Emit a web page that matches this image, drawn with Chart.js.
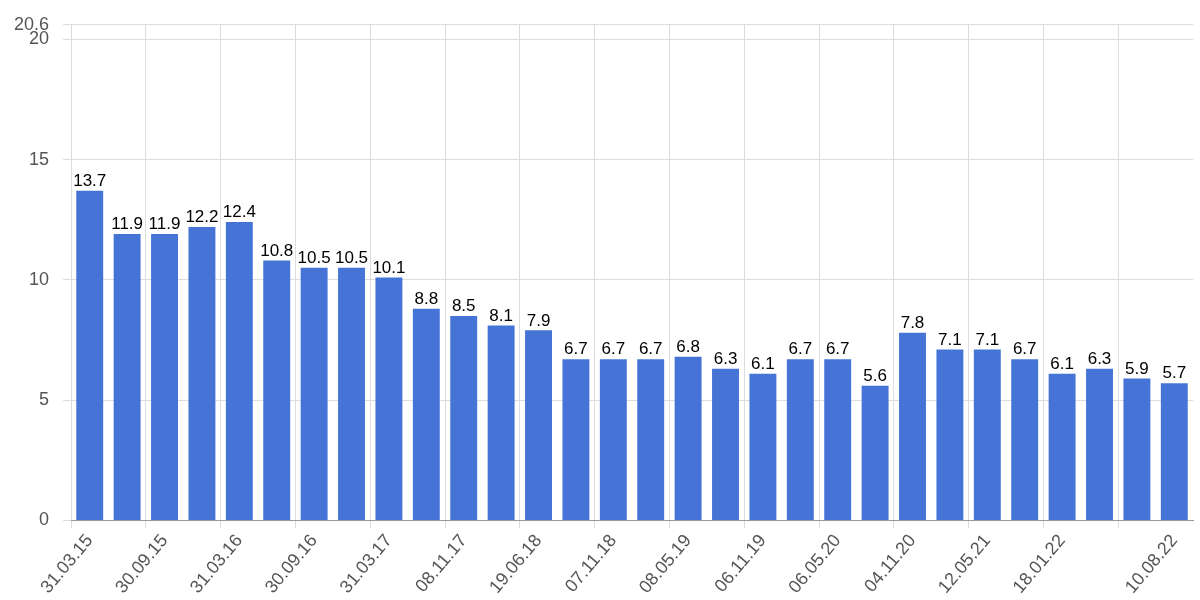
<!DOCTYPE html>
<html>
<head>
<meta charset="utf-8">
<script src="https://cdn.jsdelivr.net/npm/chart.js@4/dist/chart.umd.min.js"></script>
<style>
  html, body { margin: 0; padding: 0; background: #fff; }
  #wrap { width: 1200px; height: 600px; }
</style>
</head>
<body>
<div id="wrap"><canvas id="c"></canvas></div>
<script>
const labels = ['31.03.15','30.06.15','30.09.15','31.12.15','31.03.16','30.06.16','30.09.16','31.12.16','31.03.17','30.06.17',
  '08.11.17','15.03.18','19.06.18','12.09.18','07.11.18','20.02.19','08.05.19','15.08.19','06.11.19','12.02.20',
  '06.05.20','12.08.20','04.11.20','10.02.21','12.05.21','20.09.21','18.01.22','20.04.22','15.06.22','10.08.22'];
const values = [13.7, 11.9, 11.9, 12.2, 12.4, 10.8, 10.5, 10.5, 10.1, 8.8,
  8.5, 8.1, 7.9, 6.7, 6.7, 6.7, 6.8, 6.3, 6.1, 6.7,
  6.7, 5.6, 7.8, 7.1, 7.1, 6.7, 6.1, 6.3, 5.9, 5.7];
const yTicks = [0, 5, 10, 15, 20, 20.6];

const barLabels = {
  id: 'barLabels',
  afterDatasetsDraw(chart) {
    const ctx = chart.ctx;
    const meta = chart.getDatasetMeta(0);
    ctx.save();
    ctx.font = '17px Arial, "Liberation Sans"';
    ctx.fillStyle = '#000';
    ctx.textAlign = 'center';
    ctx.textBaseline = 'bottom';
    meta.data.forEach((bar, i) => ctx.fillText(values[i].toFixed(1), bar.x, bar.y - 1));
    ctx.restore();
  }
};

new Chart(document.getElementById('c'), {
  type: 'bar',
  data: { labels, datasets: [{ data: values, backgroundColor: '#4674d6', categoryPercentage: 0.72, barPercentage: 1 }] },
  options: {
    responsive: true, maintainAspectRatio: false, animation: false,
    layout: { padding: { top: 0, right: 7, left: 0 } },
    plugins: { legend: { display: false }, tooltip: { enabled: false } },
    scales: {
      x: {
        grid: { color: c => (c.index % 2 === 0 ? '#ddd' : 'rgba(0,0,0,0)'), offset: true },
        border: { color: '#999' },
        ticks: {
          autoSkip: false, maxRotation: 50, minRotation: 50, padding: 2,
          color: '#555', font: { size: 18, family: 'Arial, "Liberation Sans"' },
          callback: (v, i) => ((i % 2 === 0 && i < 28) || i === 29) ? labels[i] : ''
        }
      },
      y: {
        min: 0, max: 20.6,
        afterBuildTicks: axis => { axis.ticks = yTicks.map(v => ({ value: v })); },
        grid: { color: '#ddd' },
        border: { display: false },
        ticks: { color: '#555', font: { size: 18, family: 'Arial, "Liberation Sans"' }, padding: 14 }
      }
    }
  },
  plugins: [barLabels]
});
</script>
</body>
</html>
